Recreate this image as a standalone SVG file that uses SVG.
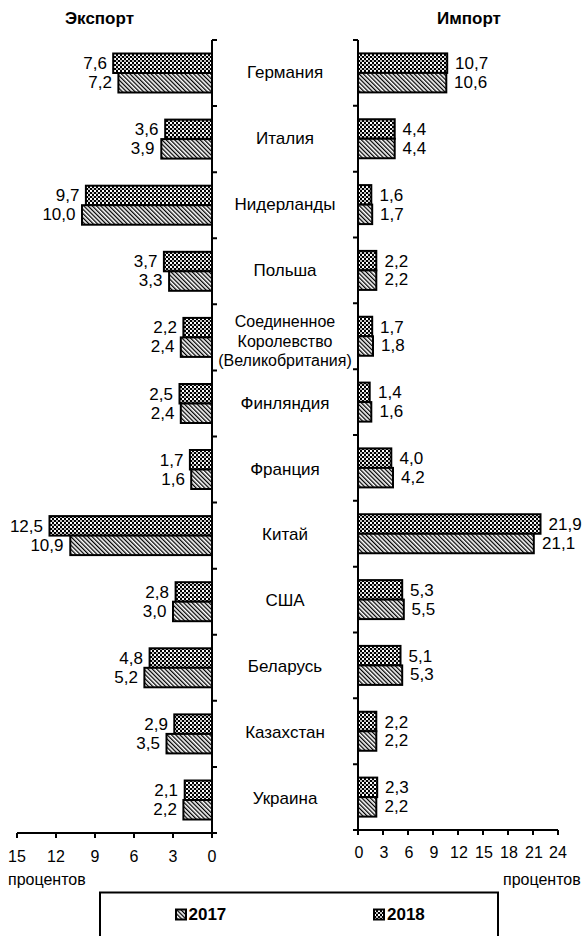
<svg xmlns="http://www.w3.org/2000/svg" width="584" height="936" viewBox="0 0 584 936">
<style>
text{font-family:"Liberation Sans",Arial,sans-serif;fill:#000}
.t{font-size:17px;font-weight:bold}
.c{font-size:17px;text-anchor:middle}
.cs{font-size:16px;text-anchor:middle}
.vl{font-size:17px;text-anchor:end}
.vr{font-size:17px;text-anchor:start}
.n{font-size:16px;text-anchor:middle}
.u{font-size:16px}
.lg{font-size:17px;font-weight:bold}
.ax{stroke:#000;stroke-width:2;fill:none}
.b17{fill:url(#hatch);stroke:#000;stroke-width:2}
.b18{fill:url(#check);stroke:#000;stroke-width:2}
</style>
<defs>
<pattern id="hatch" patternUnits="userSpaceOnUse" width="3" height="3" patternTransform="rotate(-45)">
<rect width="3" height="3" fill="#fff"/>
<rect width="1.3" height="3" fill="#000"/>
</pattern>
<pattern id="check" patternUnits="userSpaceOnUse" width="4" height="4">
<rect width="4" height="4" fill="#000"/>
<rect x="0" y="0" width="2" height="2" fill="#fff"/>
<rect x="2" y="2" width="2" height="2" fill="#fff"/>
<rect x="0.5" y="0.5" width="1" height="1" fill="#000"/>
</pattern>
</defs>
<rect width="584" height="936" fill="#fff"/>
<text class="t" x="65" y="24">Экспорт</text>
<text class="t" x="437" y="24">Импорт</text>

<g id="axes">
<path class="ax" d="M212,40V833H17M358,40V830H558"/>
<path class="ax" d="M212,40h5M212,106.1h5M212,172.2h5M212,238.2h5M212,304.3h5M212,370.4h5M212,436.5h5M212,502.6h5M212,568.7h5M212,634.7h5M212,700.8h5M212,766.9h5M212,833h5"/>
<path class="ax" d="M353,40h5M353,105.8h5M353,171.7h5M353,237.5h5M353,303.3h5M353,369.2h5M353,435h5M353,500.8h5M353,566.7h5M353,632.5h5M353,698.3h5M353,764.2h5M353,830h5"/>
<path class="ax" d="M17,833v5M56,833v5M95,833v5M134,833v5M173,833v5M212,833v5"/>
<path class="ax" d="M358,830v5M383,830v5M408,830v5M433,830v5M458,830v5M483,830v5M508,830v5M533,830v5M558,830v5"/>
<text class="n" x="17" y="862">15</text>
<text class="n" x="56" y="862">12</text>
<text class="n" x="95" y="862">9</text>
<text class="n" x="134" y="862">6</text>
<text class="n" x="173" y="862">3</text>
<text class="n" x="212" y="862">0</text>
<text class="n" x="359" y="858">0</text>
<text class="n" x="384" y="858">3</text>
<text class="n" x="409" y="858">6</text>
<text class="n" x="434" y="858">9</text>
<text class="n" x="459" y="858">12</text>
<text class="n" x="484" y="858">15</text>
<text class="n" x="509" y="858">18</text>
<text class="n" x="534" y="858">21</text>
<text class="n" x="558" y="858">24</text>
<text class="u" x="8" y="885">процентов</text>
<text class="u" x="503" y="885">процентов</text>
</g>

<g id="connectors"></g>

<g id="germany">
<rect class="b18" x="113.2" y="53.5" width="98.8" height="19.5"/>
<rect class="b17" x="118.4" y="73" width="93.6" height="19.5"/>
<text class="vl" x="107" y="69">7,6</text>
<text class="vl" x="112" y="88">7,2</text>
<text class="c" x="285" y="78">Германия</text>
<rect class="b18" x="358" y="53.4" width="89.2" height="19.5"/>
<rect class="b17" x="358" y="72.9" width="88.3" height="19.5"/>
<text class="vr" x="455" y="69">10,7</text>
<text class="vr" x="454" y="87.5">10,6</text>
</g>

<g id="italy">
<rect class="b18" x="165.2" y="119.6" width="46.8" height="19.5"/>
<rect class="b17" x="161.3" y="139.1" width="50.7" height="19.5"/>
<text class="vl" x="158.5" y="135">3,6</text>
<text class="vl" x="154.5" y="154">3,9</text>
<text class="c" x="285" y="144">Италия</text>
<rect class="b18" x="358" y="119.25" width="36.7" height="19.5"/>
<rect class="b17" x="358" y="138.75" width="36.7" height="19.5"/>
<text class="vr" x="402.5" y="135">4,4</text>
<text class="vr" x="402.5" y="153.5">4,4</text>
</g>

<g id="netherlands">
<rect class="b18" x="85.9" y="185.7" width="126.1" height="19.5"/>
<rect class="b17" x="82" y="205.2" width="130" height="19.5"/>
<text class="vl" x="79.5" y="201">9,7</text>
<text class="vl" x="75.5" y="220">10,0</text>
<text class="c" x="285" y="210">Нидерланды</text>
<rect class="b18" x="358" y="185.1" width="13.3" height="19.5"/>
<rect class="b17" x="358" y="204.6" width="14.2" height="19.5"/>
<text class="vr" x="379.5" y="201">1,6</text>
<text class="vr" x="380" y="219.5">1,7</text>
</g>

<g id="poland">
<rect class="b18" x="163.9" y="251.8" width="48.1" height="19.5"/>
<rect class="b17" x="169.1" y="271.3" width="42.9" height="19.5"/>
<text class="vl" x="157.5" y="267">3,7</text>
<text class="vl" x="162.5" y="286">3,3</text>
<text class="c" x="285" y="276">Польша</text>
<rect class="b18" x="358" y="250.9" width="18.3" height="19.5"/>
<rect class="b17" x="358" y="270.4" width="18.3" height="19.5"/>
<text class="vr" x="384.5" y="267">2,2</text>
<text class="vr" x="384.5" y="285">2,2</text>
</g>

<g id="uk">
<rect class="b18" x="183.4" y="317.9" width="28.6" height="19.5"/>
<rect class="b17" x="180.8" y="337.4" width="31.2" height="19.5"/>
<text class="vl" x="177" y="333">2,2</text>
<text class="vl" x="174.5" y="352">2,4</text>
<text class="cs" x="285" y="327">Соединенное</text>
<text class="cs" x="285" y="346.5">Королевство</text>
<text class="cs" x="285" y="366">(Великобритания)</text>
<rect class="b18" x="358" y="316.75" width="14.2" height="19.5"/>
<rect class="b17" x="358" y="336.25" width="15" height="19.5"/>
<text class="vr" x="380" y="332.5">1,7</text>
<text class="vr" x="381" y="351">1,8</text>
</g>

<g id="finland">
<rect class="b18" x="179.5" y="384" width="32.5" height="19.5"/>
<rect class="b17" x="180.8" y="403.5" width="31.2" height="19.5"/>
<text class="vl" x="173" y="399.5">2,5</text>
<text class="vl" x="174.5" y="418.5">2,4</text>
<text class="c" x="285" y="408.5">Финляндия</text>
<rect class="b18" x="358" y="382.6" width="11.7" height="19.5"/>
<rect class="b17" x="358" y="402.1" width="13.3" height="19.5"/>
<text class="vr" x="378" y="398">1,4</text>
<text class="vr" x="379.5" y="416.5">1,6</text>
</g>

<g id="france">
<rect class="b18" x="189.9" y="450" width="22.1" height="19.5"/>
<rect class="b17" x="191.2" y="469.5" width="20.8" height="19.5"/>
<text class="vl" x="183.5" y="465.5">1,7</text>
<text class="vl" x="185" y="484.5">1,6</text>
<text class="c" x="285" y="474.5">Франция</text>
<rect class="b18" x="358" y="448.4" width="33.3" height="19.5"/>
<rect class="b17" x="358" y="467.9" width="35" height="19.5"/>
<text class="vr" x="399.5" y="464">4,0</text>
<text class="vr" x="401" y="482.5">4,2</text>
</g>

<g id="china">
<rect class="b18" x="49.5" y="516.1" width="162.5" height="19.5"/>
<rect class="b17" x="70.3" y="535.6" width="141.7" height="19.5"/>
<text class="vl" x="43" y="531.5">12,5</text>
<text class="vl" x="63.5" y="550.5">10,9</text>
<text class="c" x="285" y="540">Китай</text>
<rect class="b18" x="358" y="514.25" width="182.5" height="19.5"/>
<rect class="b17" x="358" y="533.75" width="175.8" height="19.5"/>
<text class="vr" x="548.5" y="530">21,9</text>
<text class="vr" x="542" y="548.5">21,1</text>
</g>

<g id="usa">
<rect class="b18" x="175.6" y="582.2" width="36.4" height="19.5"/>
<rect class="b17" x="173" y="601.7" width="39" height="19.5"/>
<text class="vl" x="169" y="597.5">2,8</text>
<text class="vl" x="166.5" y="616.5">3,0</text>
<text class="c" x="285" y="606">США</text>
<rect class="b18" x="358" y="580.1" width="44.2" height="19.5"/>
<rect class="b17" x="358" y="599.6" width="45.8" height="19.5"/>
<text class="vr" x="410" y="596">5,3</text>
<text class="vr" x="411.5" y="614.5">5,5</text>
</g>

<g id="belarus">
<rect class="b18" x="149.6" y="648.3" width="62.4" height="19.5"/>
<rect class="b17" x="144.4" y="667.8" width="67.6" height="19.5"/>
<text class="vl" x="143" y="663.5">4,8</text>
<text class="vl" x="138" y="682.5">5,2</text>
<text class="c" x="285" y="672">Беларусь</text>
<rect class="b18" x="358" y="645.9" width="42.5" height="19.5"/>
<rect class="b17" x="358" y="665.4" width="44.2" height="19.5"/>
<text class="vr" x="408.5" y="661.5">5,1</text>
<text class="vr" x="410" y="680">5,3</text>
</g>

<g id="kazakhstan">
<rect class="b18" x="174.3" y="714.4" width="37.7" height="19.5"/>
<rect class="b17" x="166.5" y="733.9" width="45.5" height="19.5"/>
<text class="vl" x="168" y="729.5">2,9</text>
<text class="vl" x="160" y="748.5">3,5</text>
<text class="c" x="285" y="738">Казахстан</text>
<rect class="b18" x="358" y="711.75" width="18.3" height="19.5"/>
<rect class="b17" x="358" y="731.25" width="18.3" height="19.5"/>
<text class="vr" x="384.5" y="727.5">2,2</text>
<text class="vr" x="384.5" y="746">2,2</text>
</g>

<g id="ukraine">
<rect class="b18" x="184.7" y="780.5" width="27.3" height="19.5"/>
<rect class="b17" x="183.4" y="800" width="28.6" height="19.5"/>
<text class="vl" x="178" y="796">2,1</text>
<text class="vl" x="177" y="815">2,2</text>
<text class="c" x="285" y="804">Украина</text>
<rect class="b18" x="358" y="777.6" width="19.2" height="19.5"/>
<rect class="b17" x="358" y="797.1" width="18.3" height="19.5"/>
<text class="vr" x="385" y="793">2,3</text>
<text class="vr" x="384.5" y="811.5">2,2</text>
</g>

<g id="legend">
<rect x="100" y="892.5" width="398" height="60" fill="none" stroke="#000" stroke-width="2"/>
<rect class="b17" x="176" y="909.5" width="10" height="10"/>
<text class="lg" x="188.5" y="919.5">2017</text>
<rect class="b18" x="374" y="909.5" width="10" height="10"/>
<text class="lg" x="387" y="919.5">2018</text>
</g>
</svg>
